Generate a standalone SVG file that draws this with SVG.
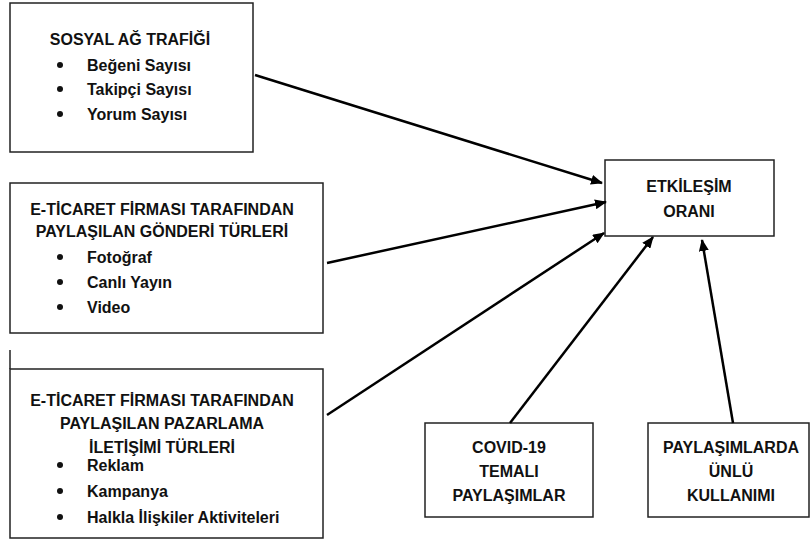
<svg xmlns="http://www.w3.org/2000/svg" width="810" height="540" viewBox="0 0 810 540">
<style>
.box{fill:#fff;stroke:#222;stroke-width:1.5}
.t{font-family:"Liberation Sans",Arial,sans-serif;font-weight:bold;font-size:16px;fill:#111}
.c{text-anchor:middle}
.b{fill:#111}
.con{stroke:#000;stroke-width:2.5;fill:none;marker-end:url(#ah)}
</style>
<defs>
<marker id="ah" viewBox="0 0 12 10" refX="11" refY="5" markerWidth="12" markerHeight="10" markerUnits="userSpaceOnUse" orient="auto">
<path d="M0,0 L12,5 L0,10 Z" fill="#000"/>
</marker>
</defs>
<rect width="810" height="540" fill="#fff"/>
<g id="n1">
<rect class="box" x="10" y="3" width="243" height="149"/>
<text class="t c" x="130" y="45">SOSYAL AĞ TRAFİĞİ</text>
<circle class="b" cx="60" cy="65" r="3"/><text class="t" x="87" y="71">Beğeni Sayısı</text>
<circle class="b" cx="60" cy="89" r="3"/><text class="t" x="87" y="95">Takipçi Sayısı</text>
<circle class="b" cx="60" cy="114" r="3"/><text class="t" x="87" y="120">Yorum Sayısı</text>
</g>
<g id="n2">
<rect class="box" x="10" y="183" width="313" height="150"/>
<text class="t c" x="162" y="215">E-TİCARET FİRMASI TARAFINDAN</text>
<text class="t c" x="162" y="237">PAYLAŞILAN GÖNDERİ TÜRLERİ</text>
<circle class="b" cx="60" cy="257" r="3"/><text class="t" x="87" y="263">Fotoğraf</text>
<circle class="b" cx="60" cy="282" r="3"/><text class="t" x="87" y="288">Canlı Yayın</text>
<circle class="b" cx="60" cy="307" r="3"/><text class="t" x="87" y="313">Video</text>
</g>
<g id="n3">
<line x1="10" y1="350" x2="10" y2="369" stroke="#222" stroke-width="1.5"/>
<rect class="box" x="10" y="369" width="313" height="169"/>
<text class="t c" x="162" y="406">E-TİCARET FİRMASI TARAFINDAN</text>
<text class="t c" x="162" y="429">PAYLAŞILAN PAZARLAMA</text>
<text class="t c" x="162" y="453">İLETİŞİMİ TÜRLERİ</text>
<circle class="b" cx="60" cy="465" r="3"/><text class="t" x="87" y="471">Reklam</text>
<circle class="b" cx="60" cy="491" r="3"/><text class="t" x="87" y="497">Kampanya</text>
<circle class="b" cx="60" cy="517" r="3"/><text class="t" x="87" y="523">Halkla İlişkiler Aktiviteleri</text>
</g>
<g id="n4">
<rect class="box" x="605" y="160" width="169" height="76"/>
<text class="t c" x="689" y="192">ETKİLEŞİM</text>
<text class="t c" x="689" y="217">ORANI</text>
</g>
<g id="n5">
<rect class="box" x="425" y="423" width="168" height="94"/>
<text class="t c" x="509" y="453">COVID-19</text>
<text class="t c" x="509" y="477">TEMALI</text>
<text class="t c" x="509" y="501">PAYLAŞIMLAR</text>
</g>
<g id="n6">
<rect class="box" x="648" y="423" width="161" height="94"/>
<text class="t c" x="731" y="453">PAYLAŞIMLARDA</text>
<text class="t c" x="731" y="477">ÜNLÜ</text>
<text class="t c" x="731" y="501">KULLANIMI</text>
</g>
<g id="connectors">
<line class="con" x1="255" y1="75" x2="602" y2="183"/>
<line class="con" x1="327" y1="263" x2="606" y2="202"/>
<line class="con" x1="327" y1="415" x2="604" y2="233"/>
<line class="con" x1="510" y1="423" x2="653" y2="237"/>
<line class="con" x1="733" y1="423" x2="702" y2="240"/>
</g>
</svg>
